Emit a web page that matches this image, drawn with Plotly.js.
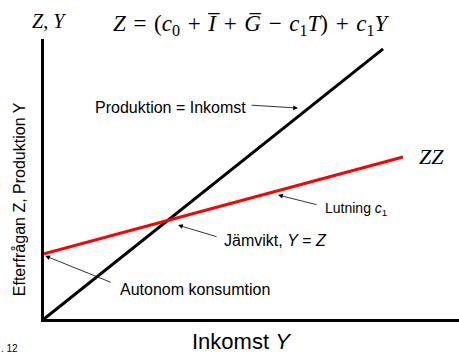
<!DOCTYPE html>
<html>
<head>
<meta charset="utf-8">
<script src="https://cdn.plot.ly/plotly-3.0.1.min.js"></script>
<style>
  html, body { margin: 0; padding: 0; background: #fff; }
  #chart { width: 459px; height: 356px; }
</style>
</head>
<body>
<div id="chart"></div>
<script>
// 45-degree line: Produktion = Inkomst (Z = Y)
let lineX = [0, 8.17];
let lineY = [0, 8.17];

// ZZ: efterfrågan, intercept = autonom konsumtion, slope = c1
let zzX = [0, 8.65];
let zzY = [1.97, 4.90];

let trace1 = {
    x: lineX,
    y: lineY,
    mode: 'lines',
    line: {color: '#000000', width: 3},
    hoverinfo: 'skip'
};

let trace2 = {
    x: zzX,
    y: zzY,
    mode: 'lines',
    line: {color: '#ff0000', width: 3},
    hoverinfo: 'skip'
};

let sans = 'Liberation Sans, Arial, sans-serif';
let serif = 'Liberation Serif, Times New Roman, serif';

// arrow helper: text-less annotation, tail offset in pixels
function arrow(x, y, ax, ay) {
    return {
        x: x, y: y, xref: 'x', yref: 'y',
        text: '', showarrow: true,
        ax: ax, ay: ay,
        arrowhead: 2, arrowsize: 1.2, arrowwidth: 0.8, arrowcolor: '#000'
    };
}

function label(text, x, y, size, font, anchor) {
    return {
        x: x, y: y, xref: 'paper', yref: 'paper',
        text: text, showarrow: false,
        xanchor: anchor || 'left', yanchor: 'middle',
        font: {family: font, size: size, color: '#000'}
    };
}

// wider spacing round the operators, like the original equation
let sp = '\u2004';
let eq = '<i>Z</i>' + sp + '=' + sp + '(<i>c</i><sub>0</sub>' + sp + '+' + sp + '<i>I\u0305</i>' + sp + '+' + sp +
         '<i>G\u0305</i>' + sp + '\u2212' + sp + '<i>c</i><sub>1</sub><i>T</i>)' + sp + '+' + sp + '<i>c</i><sub>1</sub><i>Y</i>';

let yTitle = label('Efterfrågan Z, Produktion Y', -0.057, 0.429, 16, sans, 'center');
yTitle.textangle = -90;

let layout = {
    width: 459,
    height: 356,
    margin: {l: 44, r: 0, t: 39, b: 37},
    paper_bgcolor: '#fff',
    plot_bgcolor: '#fff',
    showlegend: false,
    xaxis: {
        range: [0, 10],
        showgrid: false, zeroline: false, showticklabels: false, ticks: '',
        showline: true, linecolor: '#000', linewidth: 3
    },
    yaxis: {
        range: [0, 8.47],
        showgrid: false, zeroline: false, showticklabels: false, ticks: '',
        showline: true, linecolor: '#000', linewidth: 3
    },
    annotations: [
        label('<i>Z</i>, <i>Y</i>', 0.011, 1.065, 20, serif, 'center'),
        label(eq, 0.5, 1.05, 23, serif, 'center'),
        label('Produktion = Inkomst', 0.118, 0.757, 16, sans),
        label('<i>ZZ</i>', 0.899, 0.579, 22, serif),
        label('Lutning <i>c</i><sub>1</sub>', 0.672, 0.393, 14, sans),
        label('Jämvikt, <i>Y</i> = <i>Z</i>', 0.429, 0.282, 16, sans),
        label('Autonom konsumtion', 0.178, 0.104, 16, sans),
        label('Inkomst <i>Y</i>', 0.477, -0.082, 22, sans, 'center'),
        label('. 12', -0.108, -0.104, 10, sans),
        yTitle,
        arrow(6.12, 6.38, -48, -3),
        arrow(5.64, 3.75, 40, 10),
        arrow(3.23, 2.84, 40, 12),
        arrow(0.03, 1.91, 67, 27)
    ]
};

Plotly.newPlot('chart', [trace1, trace2], layout, {staticPlot: true});
</script>
</body>
</html>
